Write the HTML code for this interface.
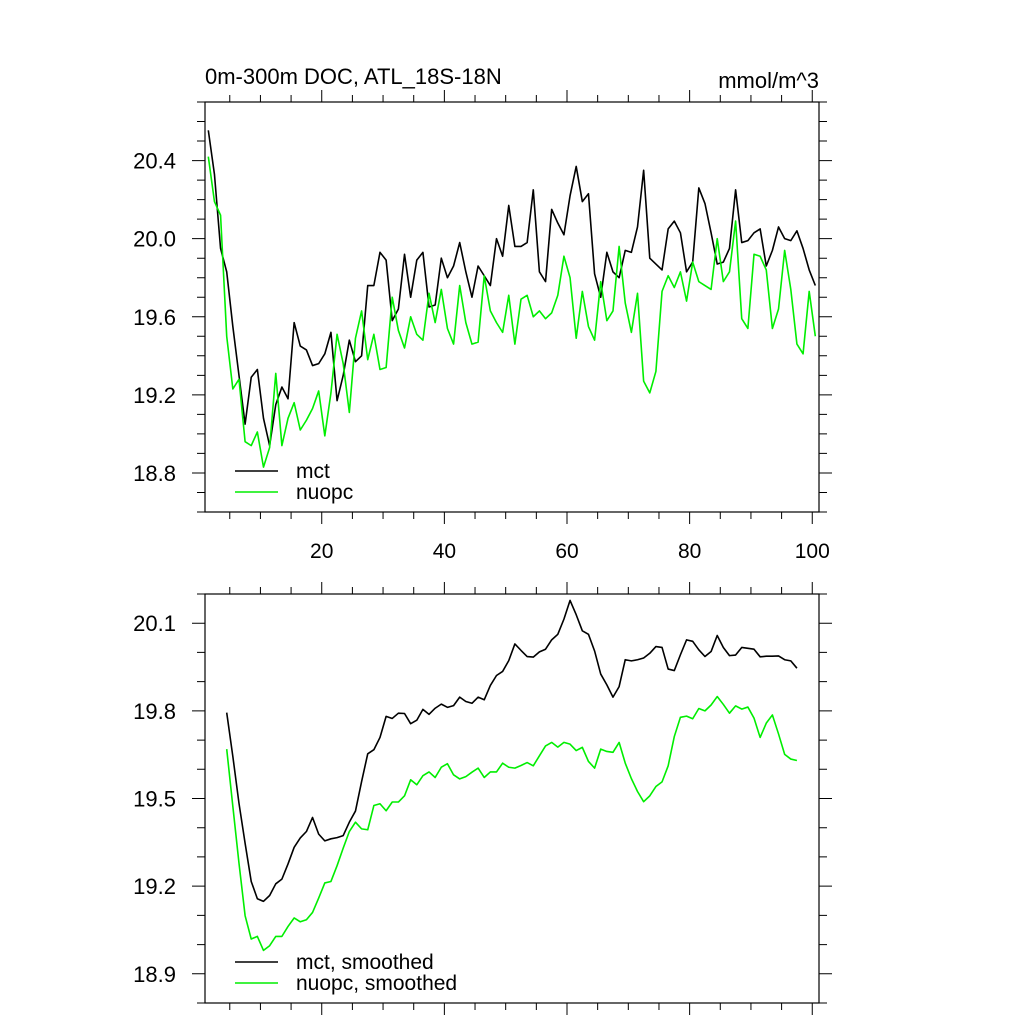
<!DOCTYPE html>
<html><head><meta charset="utf-8"><style>
html,body{margin:0;padding:0;background:#fff;}
svg{display:block;font-family:"Liberation Sans",sans-serif;}
</style></head><body>
<svg id="chart" width="1024" height="1024" viewBox="0 0 1024 1024" xmlns="http://www.w3.org/2000/svg">
<rect width="1024" height="1024" fill="#fff"/>
<g id="g"></g>
</svg>
<script>
const mctRaw=[20.555,20.33,19.95,19.83,19.55,19.30,19.05,19.29,19.33,19.08,18.94,19.15,19.24,19.18,19.57,19.45,19.43,19.35,19.36,19.41,19.52,19.17,19.30,19.48,19.37,19.40,19.76,19.76,19.93,19.89,19.58,19.64,19.92,19.70,19.89,19.93,19.65,19.66,19.90,19.80,19.86,19.98,19.83,19.70,19.86,19.81,19.76,20.00,19.91,20.17,
19.96,19.96,19.98,20.25,19.83,19.78,20.15,20.08,20.02,20.22,20.37,20.19,20.23,19.82,19.70,19.93,19.83,19.80,19.94,19.93,20.06,20.35,19.90,19.87,19.84,20.05,20.09,20.03,19.83,19.88,20.26,20.18,20.03,19.87,19.88,19.95,20.25,19.98,19.99,20.03,20.05,19.86,19.94,20.06,20.00,19.99,20.04,19.95,19.84,19.76];
const nuopcRaw=[20.42,20.19,20.12,19.50,19.23,19.28,18.96,18.94,19.01,18.83,18.93,19.31,18.94,19.08,19.16,19.02,19.07,19.13,19.22,18.99,19.21,19.51,19.36,19.11,19.49,19.63,19.38,19.51,19.33,19.34,19.70,19.53,19.44,19.60,19.51,19.48,19.72,19.57,19.74,19.54,19.46,19.76,19.57,19.46,19.47,19.81,19.63,19.57,19.52,19.71,
19.46,19.69,19.71,19.60,19.63,19.59,19.62,19.71,19.91,19.80,19.49,19.73,19.55,19.48,19.78,19.58,19.63,19.96,19.67,19.52,19.72,19.27,19.21,19.32,19.73,19.81,19.75,19.83,19.68,19.88,19.78,19.76,19.74,20.00,19.78,19.83,20.09,19.59,19.54,19.92,19.91,19.84,19.54,19.64,19.94,19.74,19.46,19.41,19.73,19.50];
const smoothStart=4;
const mctSmooth=[19.794,19.644,19.484,19.347,19.216,19.157,19.148,19.168,19.208,19.224,19.276,19.333,19.365,19.387,19.435,19.378,19.355,19.362,19.366,19.373,19.419,19.457,19.558,19.653,19.667,19.709,19.781,19.774,19.792,19.791,19.756,19.768,19.805,19.788,19.809,19.823,19.812,19.818,19.847,19.832,19.826,19.847,19.838,19.887,19.921,19.935,19.972,
20.029,20.007,19.986,19.984,20.002,20.011,20.043,20.062,20.114,20.178,20.129,20.074,20.062,20.005,19.926,19.889,19.847,19.883,19.975,19.971,19.975,19.981,19.997,20.020,20.017,19.943,19.938,19.992,20.043,20.038,20.009,19.986,20.003,20.058,20.017,19.989,19.991,20.017,20.014,20.011,19.985,19.987,19.987,19.988,19.975,19.971,19.946];
const nuopcSmooth=[19.669,19.473,19.279,19.099,19.019,19.028,18.980,18.996,19.028,19.028,19.062,19.091,19.078,19.085,19.110,19.159,19.211,19.216,19.270,19.330,19.387,19.419,19.396,19.393,19.476,19.482,19.458,19.488,19.488,19.509,19.564,19.547,19.578,19.591,19.572,19.607,19.619,19.581,19.567,19.575,19.590,19.604,19.572,19.591,19.591,19.621,19.607,
19.604,19.613,19.623,19.612,19.646,19.680,19.692,19.676,19.692,19.686,19.664,19.675,19.627,19.604,19.669,19.661,19.658,19.692,19.621,19.568,19.524,19.489,19.509,19.541,19.557,19.612,19.712,19.778,19.782,19.773,19.808,19.800,19.820,19.849,19.822,19.792,19.817,19.806,19.813,19.775,19.709,19.758,19.786,19.721,19.651,19.635,19.630];
const topYTicks=["18.8","19.2","19.6","20.0","20.4"];
const botYTicks=["18.9","19.2","19.5","19.8","20.1"];
const xTickLabels=["20","40","60","80","100"];

const NS="http://www.w3.org/2000/svg";
const g=document.getElementById('g');
function mk(tag,attrs,parent){const e=document.createElementNS(NS,tag);for(const k in attrs)e.setAttribute(k,attrs[k]);(parent||g).appendChild(e);return e;}
const X0=205,X1=819,XMIN=0.96,XMAX=101.1;
function xs(v){return X0+(v-XMIN)/(XMAX-XMIN)*(X1-X0);}

function panel(name,top,bot,ymin,ymax,yLabels,minorStep,showX){
  const grp=mk('g',{});
  
  
  const ys=v=>bot-(v-ymin)/(ymax-ymin)*(bot-top);
  const fr=mk('rect',{x:X0,y:top,width:X1-X0,height:bot-top,fill:'none',stroke:'#000','stroke-width':1.2},grp);
  
  
  let ticks='';
  for(let v=Math.ceil(ymin/minorStep-1e-6)*minorStep;v<=ymax+1e-6;v+=minorStep){
    const y=ys(v);const major=yLabels.some(l=>Math.abs(parseFloat(l)-v)<1e-6);
    const L=major?13:8;
    ticks+=`M${X0} ${y}H${X0-L}M${X1} ${y}H${X1+L}`;
  }
  for(let v=5;v<=100;v+=5){
    const x=xs(v);const L=(v%20===0)?12:7;
    ticks+=`M${x} ${bot}V${bot+L}M${x} ${top}V${top-L}`;
  }
  const tp=mk('path',{d:ticks,stroke:'#000','stroke-width':1,fill:'none'},grp);
  
  
  yLabels.forEach(l=>{
    const t=mk('text',{x:176,y:ys(parseFloat(l))+8,'text-anchor':'end','font-size':22},grp);
    t.textContent=l;
    
    
  });
  if(showX){
    xTickLabels.forEach(l=>{
      const t=mk('text',{x:xs(parseFloat(l)),y:bot+46,'text-anchor':'middle','font-size':21},grp);
      t.textContent=l;
      
      
    });
  }
  return {grp,ys};
}
function series(p,vals,start,color,name){
  const d=vals.map((v,i)=>(i?'L':'M')+xs(start+i+0.5).toFixed(2)+' '+p.ys(v).toFixed(2)).join('');
  const e=mk('path',{d:d,stroke:color,'stroke-width':1.6,fill:'none','stroke-linejoin':'round'},p.grp);
  
  
}
function legend(p,y,entries){
  entries.forEach((en,i)=>{
    const yy=y+i*21;
    const l=mk('line',{x1:235,x2:278,y1:yy,y2:yy,stroke:en[1],'stroke-width':1.6},p.grp);
    
    
    const t=mk('text',{x:296,y:yy+7,'font-size':21},p.grp);
    t.textContent=en[0];
    
    
  });
}
const pTop=panel('top-panel',102,512,18.6,20.7,topYTicks,0.1,true);
series(pTop,mctRaw,1,'#000','mct-line');
series(pTop,nuopcRaw,1,'#00ee00','nuopc-line');
legend(pTop,471,[['mct','#000'],['nuopc','#00ee00']]);
const pBot=panel('bottom-panel',594,1003,18.8,20.2,botYTicks,0.1,false);
series(pBot,mctSmooth,smoothStart,'#000','mct-smoothed-line');
series(pBot,nuopcSmooth,smoothStart,'#00ee00','nuopc-smoothed-line');
legend(pBot,962,[['mct, smoothed','#000'],['nuopc, smoothed','#00ee00']]);
const t1=mk('text',{x:205,y:84,'font-size':22});
t1.textContent='0m-300m DOC, ATL_18S-18N';


const t2=mk('text',{x:819,y:88,'font-size':22,'text-anchor':'end'});
t2.textContent='mmol/m^3';


</script>
</body></html>
